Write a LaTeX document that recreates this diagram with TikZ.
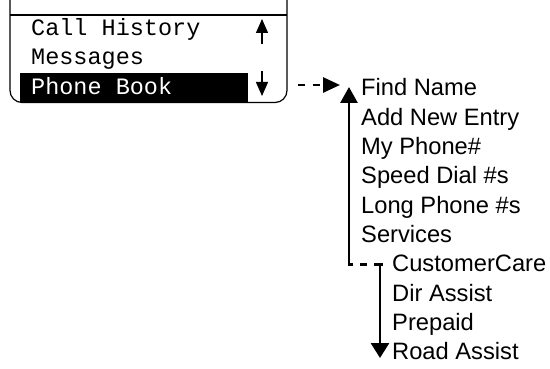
\documentclass[tikz,border=0pt]{standalone}
\usepackage{fontspec}
\setmainfont{Liberation Sans}
\newfontfamily\screenmono{Liberation Mono}
\usetikzlibrary{arrows.meta}
\tikzset{
  item/.style={anchor=base west, inner sep=0pt, font=\fontsize{23.7}{28}\selectfont},
  scr/.style={anchor=base west, inner sep=0pt, font=\screenmono\fontsize{23.5}{28}\selectfont},
  frame/.style={line width=1.2pt},
  thickline/.style={line width=2.8pt},
  bighead/.style={-{Triangle[length=16pt,width=17pt]}},
  smallhead/.style={-{Triangle[length=14pt,width=12pt]}}
}
\begin{document}
\begin{tikzpicture}[x=1pt,y=-1pt]
\useasboundingbox (0,0) rectangle (550,369);
% screen frame
\draw[frame] (10,-1) {[rounded corners=12pt] -- (10,102.5) -- (287,102.5)} -- (287,-1);
\draw[frame] (10,15) -- (287,15);
% highlight bar
\fill[black] (20,73) rectangle (248,102);
\node[scr] (ch) at (31,36) {Call History};
\node[scr] (ms) at (31,65) {Messages};
\node[scr, text=white] (pb) at (31,95) {Phone Book};
% scroll arrows
\coordinate (upB) at (262,44);
\coordinate (upT) at (262,19);
\coordinate (dnT) at (262,71);
\coordinate (dnB) at (262,96);
\draw[line width=1.3pt, smallhead] (upB) -- (upT);
\draw[line width=1.3pt, smallhead] (dnT) -- (dnB);
% dashed arrow from screen to list
\coordinate (pbR) at (298,85);
\coordinate (listTip) at (340,85);
\draw[thickline, dash pattern=on 7pt off 8pt, -{Triangle[length=17pt,width=15pt]}] (pbR) -- (listTip);
% list
\node[item] (fn) at (361,96) {Find Name};
\node[item] (an) at (361,125.3) {Add New Entry};
\node[item] (mp) at (361,154.6) {My Phone\#};
\node[item] (sd) at (361,183.9) {Speed Dial \#s};
\node[item] (lp) at (361,213.2) {Long Phone \#s};
\node[item] (sv) at (361,242.5) {Services};
\node[item] (cc) at (392,271.8) {CustomerCare};
\node[item] (da) at (392,301.1) {Dir Assist};
\node[item] (pp) at (392,330.4) {Prepaid};
\node[item] (ra) at (392,359.7) {Road Assist};
% loop arrows
\coordinate (corner) at (349,264.5);
\coordinate (upTip) at (349,87);
\coordinate (tEnd) at (383,264.5);
\coordinate (dnStart) at (380,263.1);
\coordinate (dnTip) at (380,358);
\draw[thickline, bighead] (349,265.9) -- (upTip);
\draw[thickline, dash pattern=on 4pt off 7pt on 7pt off 7pt on 10pt off 10pt] (corner) -- (tEnd);
\draw[thickline, -{Triangle[length=15pt,width=18pt]}] (dnStart) -- (dnTip);
\end{tikzpicture}
\end{document}
